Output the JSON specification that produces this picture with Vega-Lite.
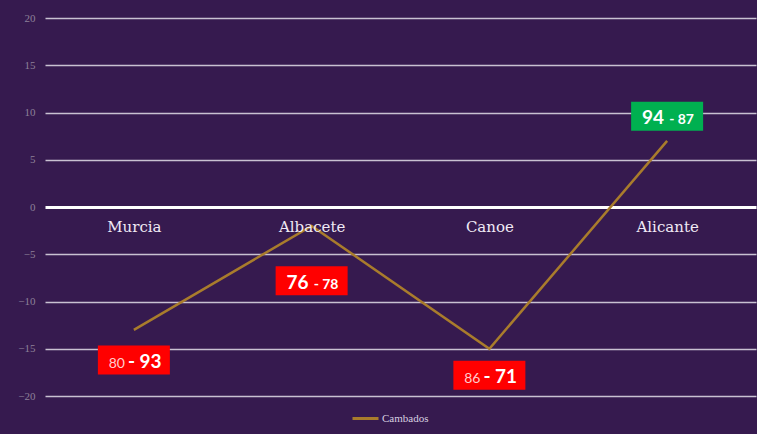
{
  "$schema": "https://vega.github.io/schema/vega-lite/v6.json",
  "width": 711,
  "height": 378,
  "autosize": {"type": "none"},
  "padding": {"left": 45, "top": 18, "right": 1, "bottom": 38},
  "background": "#361a4f",
  "config": {"view": {"stroke": null}},
  "data": {
    "values": [
      {"city": "Murcia", "diff": -13, "team": "Cambados", "left": "80", "right": "- 93", "big": "right", "labelAt": -16.2},
      {"city": "Albacete", "diff": -2, "team": "Cambados", "left": "76", "right": "- 78", "big": "left", "labelAt": -7.8},
      {"city": "Canoe", "diff": -15, "team": "Cambados", "left": "86", "right": "- 71", "big": "right", "labelAt": -17.8},
      {"city": "Alicante", "diff": 7, "team": "Cambados", "left": "94", "right": "- 87", "big": "left", "labelAt": 9.6}
    ]
  },
  "encoding": {
    "x": {
      "field": "city",
      "type": "nominal",
      "sort": null,
      "scale": {"type": "point", "padding": 0.5},
      "axis": {
        "title": null,
        "orient": "bottom",
        "offset": -189,
        "domain": false,
        "ticks": false,
        "labelAngle": 0,
        "labelPadding": 12,
        "labelFont": "DejaVu Serif",
        "labelFontSize": 15,
        "labelColor": "#f0eaf5",
        "zindex": 1
      }
    }
  },
  "layer": [
    {
      "mark": {"type": "line", "strokeWidth": 2.5},
      "encoding": {
        "y": {
          "field": "diff",
          "type": "quantitative",
          "scale": {"domain": [-20, 20], "nice": false, "zero": false},
          "axis": {
            "title": null,
            "values": [-20, -15, -10, -5, 0, 5, 10, 15, 20],
            "domain": false,
            "ticks": false,
            "labelPadding": 10,
            "labelFont": "Liberation Serif",
            "labelFontSize": 11,
            "labelColor": "#8d8199",
            "grid": true,
            "gridColor": {"condition": {"test": "datum.value === 0", "value": "#ffffff"}, "value": "#c9c1d2"},
            "gridWidth": {"condition": {"test": "datum.value === 0", "value": 3}, "value": 1.3},
            "gridOpacity": 1
          }
        },
        "color": {
          "field": "team",
          "type": "nominal",
          "scale": {"range": ["#a97c2c"]},
          "legend": {
            "title": null,
            "orient": "none",
            "legendX": 306,
            "legendY": 386,
            "symbolType": "stroke",
            "symbolStrokeWidth": 3,
            "symbolSize": 676,
            "labelFont": "Liberation Serif",
            "labelFontSize": 11,
            "labelColor": "#d8d0e0",
            "labelOffset": 2
          }
        }
      }
    },
    {
      "mark": {"type": "point", "shape": "M-1,-0.4028L1,-0.4028L1,0.4028L-1,0.4028Z", "filled": true, "size": 5184, "opacity": 1, "strokeWidth": 0},
      "encoding": {
        "y": {"field": "labelAt", "type": "quantitative"},
        "fill": {"condition": {"test": "datum.diff > 0", "value": "#00b050"}, "value": "#ff0000"}
      }
    },
    {
      "transform": [{"filter": "datum.big === 'left'"}],
      "mark": {"type": "text", "align": "right", "baseline": "alphabetic", "dx": -3, "dy": 8, "font": "Lato", "fontWeight": "bold", "fontSize": 19, "color": "#ffffff"},
      "encoding": {"y": {"field": "labelAt", "type": "quantitative"}, "text": {"field": "left"}}
    },
    {
      "transform": [{"filter": "datum.big === 'left'"}],
      "mark": {"type": "text", "align": "left", "baseline": "alphabetic", "dx": 2, "dy": 8, "font": "Lato", "fontWeight": "bold", "fontSize": 14, "color": "#ffffff"},
      "encoding": {"y": {"field": "labelAt", "type": "quantitative"}, "text": {"field": "right"}}
    },
    {
      "transform": [{"filter": "datum.big === 'right'"}],
      "mark": {"type": "text", "align": "right", "baseline": "alphabetic", "dx": -9, "dy": 8, "font": "Lato", "fontWeight": "normal", "fontSize": 14, "color": "#ffcccc"},
      "encoding": {"y": {"field": "labelAt", "type": "quantitative"}, "text": {"field": "left"}}
    },
    {
      "transform": [{"filter": "datum.big === 'right'"}],
      "mark": {"type": "text", "align": "left", "baseline": "alphabetic", "dx": -6, "dy": 8, "font": "Lato", "fontWeight": "bold", "fontSize": 19, "color": "#ffffff"},
      "encoding": {"y": {"field": "labelAt", "type": "quantitative"}, "text": {"field": "right"}}
    }
  ]
}
